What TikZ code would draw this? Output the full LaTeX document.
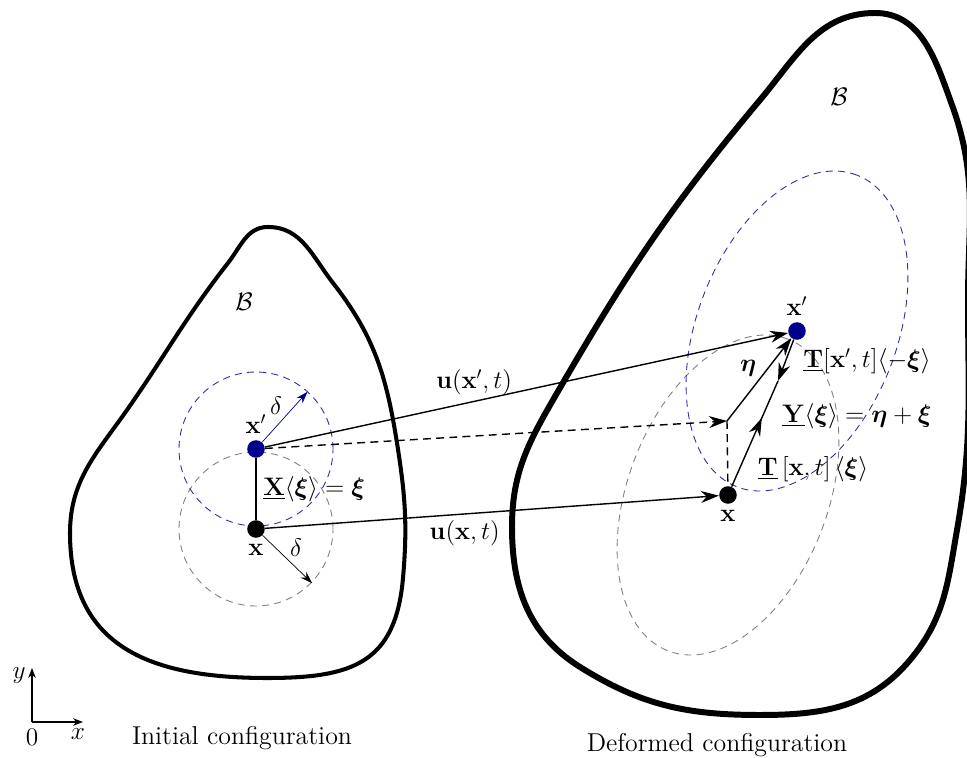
\documentclass[tikz,border=0pt]{standalone}
\usepackage{amsmath,amssymb}
\usetikzlibrary{arrows.meta,backgrounds,calc,decorations.markings}
\definecolor{dotblue}{RGB}{0,0,140}
\definecolor{ringblue}{RGB}{45,45,170}
\tikzset{
    config diagram/.style = {>={Stealth[length=3.6mm,width=2.4mm]},
                             font=\fontsize{14.7}{17}\selectfont},
    body/.style         = {line width=2.3pt},
    thick body/.style   = {line width=3.4pt},
    dot/.style          = {circle, fill, inner sep=0pt, minimum size=10pt},
    line/.style         = {line width=0.8pt},
    dline/.style        = {line, dash pattern=on 4.5pt off 3pt},
    ring/.style         = {line width=0.5pt, dash pattern=on 4pt off 3pt},
    radius arrow/.style = {line width=0.4pt,
                           -{Stealth[length=2.4mm,width=1.6mm]}},
    mid arrow/.style    = {postaction={decorate, decoration={markings,
                           mark=at position #1 with {\arrow{>}}}}},
    axis/.style         = {line width=0.6pt,
                           -{Stealth[length=2mm,width=1.5mm]}}
}

\begin{document}
\begin{tikzpicture}[config diagram]
\useasboundingbox (0,0) rectangle (19.34,15.16);

% ================= Initial configuration (left body) =================
\draw[body] (5.36,10.62) to[out=0, in=128] (6.66,9.50)
    to[out=-52, in=99] (7.94,6.30)
    to[out=-81, in=85] (8.06,3.60)
    to[out=-95, in=0, looseness=1.3] (5.34,1.60)
    to[out=180, in=-90, looseness=1.2] (1.40,4.50)
    to[out=90, in=-125] (2.54,6.96)
    to[out=55, in=-128] (4.56,9.90)
    to[out=52, in=180] cycle;
\node (Bini) at (4.88,9.12) {$\mathcal{B}$};

\node[dot, label=below:$\mathbf{x}$] (lx) at (5.12,4.58) {};
\node[dot, fill=dotblue, label=above:$\mathbf{x}'$] (lxp) at (5.12,6.18) {};

\begin{scope}[on background layer]
\draw[ring, gray] (lx) circle (1.54);
\draw[ring, ringblue] (lxp) circle (1.54);
\end{scope}

\draw[line, line width=1.6pt] (lx) -- node[right]
    {$\underline{\mathbf{X}}\langle\boldsymbol{\xi}\rangle = \boldsymbol{\xi}$} (lxp);

% horizon radius
\coordinate (dxp) at ($(lxp)+(48:1.54)$);
\coordinate (dx)  at ($(lx)+(-44:1.56)$);
\draw[radius arrow, dotblue] (lxp) -- node[above left=-2pt, text=black] {$\delta$} (dxp);
\draw[radius arrow] (lx) -- node[above right=-2pt] {$\delta$} (dx);

% ================= Deformed configuration (right body) =================
\draw[thick body] (17.50,14.90) to[out=0, in=110] (19.04,13.06)
    to[out=-70, in=90] (19.36,9.16)
    to[out=-90, in=80] (19.14,4.56)
    to[out=-100, in=50] (18.20,1.96)
    to[out=-130, in=0] (15.20,0.86)
    to[out=180, in=-32] (11.60,1.82)
    to[out=148, in=-90] (10.24,4.62)
    to[out=90, in=-120] (11.06,7.16)
    to[out=60, in=-130] (15.20,13.16)
    to[out=50, in=180] cycle;
\node (Bdef) at (16.78,13.22) {$\mathcal{B}$};

\node[dot, label=below:$\mathbf{x}$] (rx) at (14.56,5.26) {};
\node[dot, fill=dotblue, label=above:$\mathbf{x}'$] (rxp) at (15.94,8.54) {};
\coordinate (kink) at (14.54,6.74);
\coordinate (meet) at (15.56,7.54);

\begin{scope}[on background layer]
\draw[ring, gray, rotate around={69:(rx)}] (rx) ellipse (3.34 and 2.0);
\draw[ring, ringblue, rotate around={69:(rxp)}] (rxp) ellipse (3.34 and 2.0);
\end{scope}

% ================= Motion =================
\draw[->, line] (lxp) -- node[above, pos=0.4] {$\mathbf{u}(\mathbf{x}',t)$} (rxp);
\draw[->, line] (lx) -- node[below, pos=0.44] {$\mathbf{u}(\mathbf{x},t)$} (rx);
\draw[->, dline] (lxp) -- (kink);
\draw[dline] (kink) -- (rx);

% ================= Bond states =================
\draw[->, line] (kink) -- node[above left=-2pt] {$\boldsymbol{\eta}$} (rxp);
\draw[line, mid arrow=0.65] (rx) -- (meet);
\draw[->, line] (rxp) -- (meet);

\node (Tp) at (17.34,7.94)
    {$\underline{\mathbf{T}}[\mathbf{x}',t]\langle-\boldsymbol{\xi}\rangle$};
\node (Y) at (17.14,6.84)
    {$\underline{\mathbf{Y}}\langle\boldsymbol{\xi}\rangle = \boldsymbol{\eta}+\boldsymbol{\xi}$};
\node (T) at (16.26,5.78)
    {$\underline{\mathbf{T}}\left[\mathbf{x},t\right]\left\langle\boldsymbol{\xi}\right\rangle$};

% ================= Axes and captions =================
\coordinate (origin) at (0.64,0.72);
\coordinate (ytip) at (0.64,1.80);
\coordinate (xtip) at (1.66,0.72);
\draw[axis] (origin) -- (ytip);
\draw[axis] (origin) -- (xtip);
\node (ylab) at (0.38,1.64) {$y$};
\node (xlab) at (1.56,0.48) {$x$};
\node (zero) at (0.64,0.42) {$0$};

\node (initial)  at (4.84,0.40) {Initial configuration};
\node (deformed) at (14.34,0.26) {Deformed configuration};

\end{tikzpicture}
\end{document}
